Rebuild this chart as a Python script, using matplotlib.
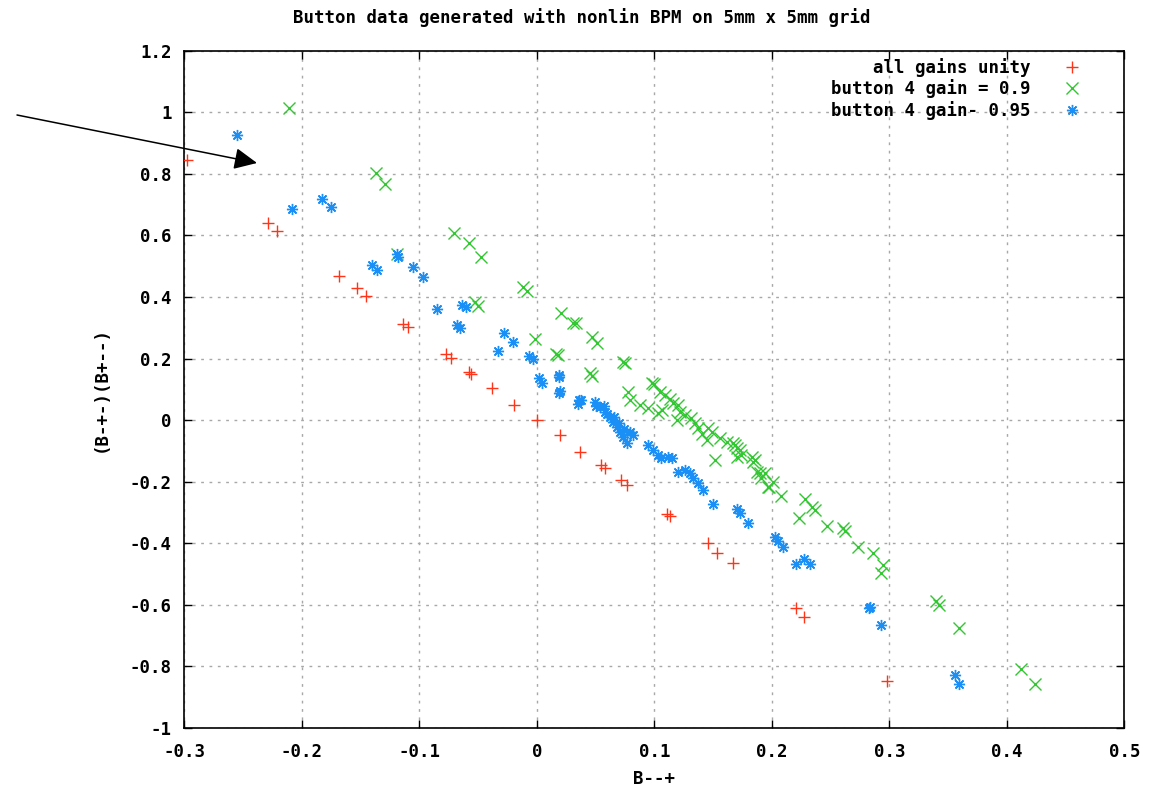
import matplotlib

matplotlib.use("Agg")
import matplotlib.pyplot as plt
from matplotlib.ticker import MultipleLocator, FuncFormatter

# ----------------- DATA -----------------
UNITY_X = [-0.298, -0.229, -0.221, -0.168, -0.153, -0.145, -0.114, -0.110, -0.077, -0.073,
           -0.058, -0.056, -0.038, -0.019, 0.000, 0.020, 0.037, 0.055, 0.058, 0.072,
           0.077, 0.111, 0.113, 0.146, 0.153, 0.167, 0.221, 0.227, 0.298]
UNITY_Y = [0.845, 0.641, 0.614, 0.467, 0.428, 0.402, 0.313, 0.303, 0.216, 0.202,
           0.157, 0.151, 0.104, 0.049, 0.000, -0.049, -0.103, -0.146, -0.157, -0.195,
           -0.210, -0.305, -0.311, -0.398, -0.432, -0.465, -0.611, -0.640, -0.846]

G90_X = [-0.211, -0.137, -0.129, -0.119, -0.0705, -0.058, -0.0475, -0.0526, -0.050, -0.0115,
         -0.0086, -0.0015, 0.016, 0.018, 0.0206, 0.0306, 0.0334, 0.0467, 0.051, 0.0453,
         0.0467, 0.073, 0.075, 0.078, 0.079, 0.098, 0.100, 0.105, 0.109, 0.0878,
         0.095, 0.1035, 0.1063, 0.113, 0.116, 0.120, 0.122, 0.126, 0.119, 0.131,
         0.1346, 0.1374, 0.141, 0.1446, 0.146, 0.149, 0.1517, 0.156, 0.1616, 0.167,
         0.170, 0.174, 0.1687, 0.173, 0.170, 0.183, 0.1857, 0.184, 0.187, 0.190,
         0.194, 0.191, 0.198, 0.201, 0.197, 0.208, 0.228, 0.234, 0.237, 0.223,
         0.2467, 0.261, 0.262, 0.2736, 0.2864, 0.295, 0.2927, 0.3394, 0.3426, 0.359,
         0.412, 0.4238]
G90_Y = [1.013, 0.802, 0.768, 0.541, 0.609, 0.576, 0.531, 0.383, 0.372, 0.434,
         0.421, 0.264, 0.215, 0.213, 0.347, 0.317, 0.314, 0.269, 0.250, 0.152,
         0.143, 0.190, 0.185, 0.091, 0.066, 0.120, 0.117, 0.093, 0.082, 0.049,
         0.039, 0.022, 0.033, 0.068, 0.057, 0.049, 0.028, 0.017, 0.000, 0.006,
         -0.010, -0.026, -0.045, -0.064, -0.026, -0.037, -0.129, -0.059, -0.070, -0.075,
         -0.091, -0.113, -0.081, -0.097, -0.119, -0.119, -0.129, -0.135, -0.167, -0.172,
         -0.173, -0.189, -0.216, -0.200, -0.216, -0.246, -0.257, -0.281, -0.292, -0.319,
         -0.344, -0.351, -0.359, -0.413, -0.430, -0.470, -0.497, -0.586, -0.600, -0.676,
         -0.809, -0.857]

G95_X = [-0.255, -0.208, -0.183, -0.175, -0.1405, -0.136, -0.119, -0.118, -0.105, -0.0966,
         -0.085, -0.064, -0.060, -0.068, -0.065, -0.033, -0.028, -0.0205, -0.0064, -0.003,
         0.002, 0.004, 0.019, 0.019, 0.019, 0.020, 0.036, 0.035, 0.038, 0.0495,
         0.054, 0.058, 0.062, 0.065, 0.068, 0.0708, 0.0736, 0.0765, 0.082, 0.079,
         0.050, 0.057, 0.060, 0.066, 0.070, 0.074, 0.095, 0.099, 0.1035, 0.106,
         0.112, 0.115, 0.1204, 0.126, 0.1304, 0.133, 0.1374, 0.1417, 0.150, 0.170,
         0.173, 0.180, 0.2027, 0.2055, 0.2098, 0.221, 0.2274, 0.2325, 0.2826, 0.284,
         0.293, 0.3558, 0.3596]
G95_Y = [0.926, 0.685, 0.717, 0.691, 0.504, 0.488, 0.540, 0.530, 0.498, 0.466,
         0.360, 0.374, 0.367, 0.310, 0.300, 0.225, 0.282, 0.255, 0.208, 0.198,
         0.136, 0.122, 0.147, 0.140, 0.089, 0.095, 0.066, 0.053, 0.066, 0.060,
         0.044, 0.028, 0.011, -0.005, -0.021, -0.037, -0.054, -0.075, -0.048, -0.037,
         0.045, 0.045, 0.020, 0.010, -0.010, -0.030, -0.081, -0.097, -0.113, -0.124,
         -0.119, -0.124, -0.167, -0.162, -0.173, -0.189, -0.205, -0.227, -0.272, -0.290,
         -0.302, -0.333, -0.378, -0.391, -0.411, -0.467, -0.452, -0.467, -0.611, -0.608,
         -0.665, -0.827, -0.856]

SERIES = [
    ("all gains unity", UNITY_X, UNITY_Y, "+", "#ff3418"),
    ("button 4 gain = 0.9", G90_X, G90_Y, "x", "#33c633"),
    ("button 4 gain- 0.95", G95_X, G95_Y, (8, 2, 0), "#1a8ff5"),
]

TITLE = "Button data generated with nonlin BPM on 5mm x 5mm grid"
XLABEL = "B--+"
YLABEL = "(B-+-)(B+--)"

# arrow drawn in figure pixels (gnuplot 'set arrow' style)
ARROW_FROM = (17, 676)
ARROW_TO = (257, 628)
# ------------------------------------------------------------------

FONT = ["DejaVu Sans Mono"]
plt.rcParams["font.family"] = FONT
plt.rcParams["font.weight"] = "bold"
plt.rcParams["axes.unicode_minus"] = False

fig = plt.figure(figsize=(11.63, 7.91), dpi=100)
ax = fig.add_axes([0.1585, 0.0796, 0.8082, 0.8563])

for label, xs, ys, marker, color in SERIES:
    ax.plot(xs, ys, linestyle="none", marker=marker, markersize=8,
            markeredgewidth=1.0, color=color, label=label, zorder=3)

ax.set_xlim(-0.3, 0.5)
ax.set_ylim(-1.0, 1.2)
ax.xaxis.set_major_locator(MultipleLocator(0.1))
ax.yaxis.set_major_locator(MultipleLocator(0.2))
fmt = FuncFormatter(lambda v, _: f"{round(v, 6) + 0.0:g}")
ax.xaxis.set_major_formatter(fmt)
ax.yaxis.set_major_formatter(fmt)

ax.tick_params(direction="in", length=6, width=1, top=True, right=True,
               labelsize=12.5, colors="black")
ax.tick_params(axis="x", pad=11)
ax.tick_params(axis="y", pad=9)
for s in ax.spines.values():
    s.set_linewidth(1.2)
    s.set_color("black")

ax.grid(True, color="#a8a8a8", linewidth=1.0, linestyle=(0, (2, 4)), zorder=0)

ax.set_xlabel(XLABEL, fontsize=12.5, fontweight="bold", va="center")
ax.set_ylabel(YLABEL, fontsize=12.5, fontweight="bold", va="center")
ax.xaxis.set_label_coords(0.5, -(779 - 728) / 677.3)
ax.yaxis.set_label_coords(-(184.3 - 101) / 940, 0.5)

fig.text(0.5, 1 - 18 / 791, TITLE, ha="center", va="center",
         fontsize=12.5, fontweight="bold")

leg = ax.legend(loc="upper right", bbox_to_anchor=(0.970, 1.0), markerfirst=False,
                frameon=False, fontsize=12.5, handlelength=2.0, handletextpad=1.36,
                labelspacing=0.15, borderaxespad=0.0, borderpad=0.4)

ax.annotate("", xy=ARROW_TO, xycoords="figure pixels",
            xytext=ARROW_FROM, textcoords="figure pixels",
            arrowprops=dict(arrowstyle="-|>,head_length=0.7,head_width=0.33",
                            mutation_scale=20, color="black", lw=1.1,
                            shrinkA=0, shrinkB=0),
            annotation_clip=False)

fig.savefig("out.png", dpi=100, facecolor="white")
